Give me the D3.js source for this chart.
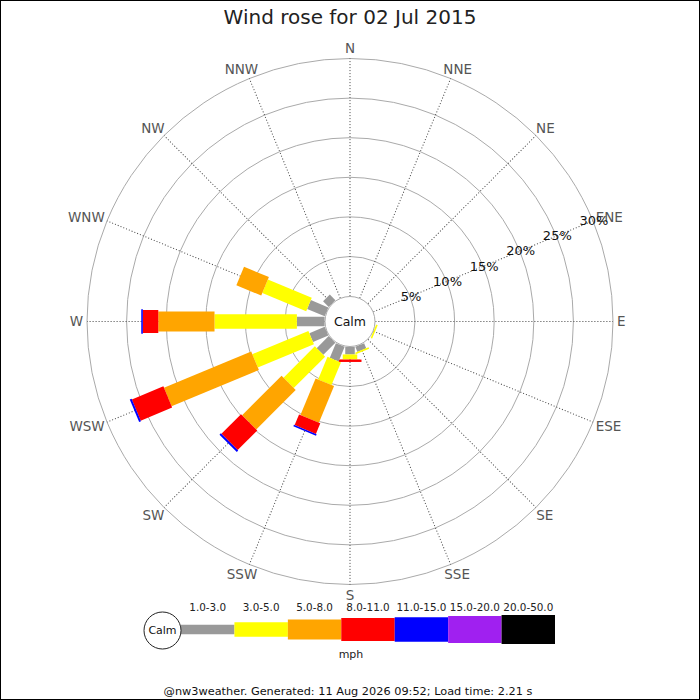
<!DOCTYPE html>
<html><head><meta charset="utf-8">
<script src="https://cdn.jsdelivr.net/npm/d3@7"></script>
<style>body{margin:0;background:#fff}svg{display:block}text{font-family:"DejaVu Sans",sans-serif}</style>
</head><body>
<svg id="c" width="700" height="700"></svg>
<script>
const title = "Wind rose for 02 Jul 2015";
const footer = "@nw3weather. Generated: 11 Aug 2026 09:52; Load time: 2.21 s";
const directions = ["N","NNE","NE","ENE","E","ESE","SE","SSE","S","SSW","SW","WSW","W","WNW","NW","NNW"];
const bandLabels = ["1.0-3.0","3.0-5.0","5.0-8.0","8.0-11.0","11.0-15.0","15.0-20.0","20.0-50.0"];
const bandColors = ["#999999","#ffff00","#ffa500","#ff0000","#0000ff","#a020f0","#000000"];
const ringTicks = [5,10,15,20,25,30];
// percentage frequency per direction, per speed band
const band1 = [0,0,0,0,0,0,0,0.7,0.95,2.0,2.15,2.1,3.5,2.4,1.0,0];
const band2 = [0,0,0,0,0,0.2,0,0.2,0.6,3.1,5.6,7.67,10.4,6.0,0,0];
const band3 = [0,0,0,0,0,0,0,0,0.05,5.0,7.05,11.93,7.1,3.4,0,0];
const band4 = [0,0,0,0,0,0,0,0,0.3,1.45,3.5,4.3,1.95,0,0,0];
const band5 = [0,0,0,0,0,0,0,0,0,0.2,0.25,0.25,0.2,0,0,0];
const band6 = [0,0,0,0,0,0,0,0,0,0,0,0,0,0,0,0];
const band7 = [0,0,0,0,0,0,0,0,0,0,0,0,0,0,0,0];
const bands = [band1,band2,band3,band4,band5,band6,band7];

const bandWidths = [9.5,14.5,20,23,24.5,27,29];
const svg = d3.select("#c");
const cx = 350, cy = 321.5, calmR = 25.4;
const r = d3.scaleLinear().domain([0,30]).range([calmR,263]);
const ang = d3.scaleBand().domain(directions).range([0,360]);
const angOf = d => ang(d);
const rad = d => angOf(d)*Math.PI/180;

svg.append("rect").attr("x",0.5).attr("y",0.5).attr("width",699).attr("height",699)
  .attr("fill","none").attr("stroke","#000").attr("stroke-width",1);

svg.append("text").attr("x",350).attr("y",24).attr("text-anchor","middle")
  .attr("font-size",20).attr("fill","#222").text(title);

const g = svg.append("g").attr("transform",`translate(${cx},${cy})`);

// rings
g.selectAll("circle.ring").data(ringTicks).join("circle").attr("class","ring")
  .attr("r",d=>r(d)).attr("fill","none").attr("stroke","#aaa").attr("stroke-width",1);

// spokes
g.selectAll("line.spoke").data(directions).join("line").attr("class","spoke")
  .attr("transform",d=>`rotate(${angOf(d)})`)
  .attr("x1",0).attr("x2",0).attr("y1",-calmR).attr("y2",-r(30))
  .attr("stroke","#444").attr("stroke-width",1).attr("stroke-dasharray","1,2");

// bars
const segs = [];
directions.forEach((d,i)=>{
  let cum = 0;
  bands.forEach((b,j)=>{
    const v = b[i];
    if (v>0) segs.push({dir:d,band:j,lo:cum,hi:cum+v});
    cum += v;
  });
});
g.selectAll("rect.seg").data(segs).join("rect").attr("class","seg")
  .attr("transform",d=>`rotate(${angOf(d.dir)})`)
  .attr("x",d=>-bandWidths[d.band]/2).attr("width",d=>bandWidths[d.band])
  .attr("y",d=>-r(d.hi)).attr("height",d=>r(d.hi)-r(d.lo))
  .attr("fill",d=>bandColors[d.band]);

// calm circle
g.append("circle").attr("r",calmR-0.4).attr("fill","#fff").attr("stroke","#aaa").attr("stroke-width",1);
g.append("text").attr("y",0).attr("dy","0.36em").attr("text-anchor","middle")
  .attr("font-size",12.5).attr("fill","#111").text("Calm");

// direction labels: placed just outside the outer ring, pushed outward by half their box
const dl = g.selectAll("text.dir").data(directions).join("text").attr("class","dir")
  .attr("dy","0.36em").attr("text-anchor","middle")
  .attr("font-size",13.5).attr("fill","#555").text(d=>d);
dl.each(function(d){
  const w = this.getComputedTextLength(), h = 13;
  const s = Math.sin(rad(d)), c = Math.cos(rad(d));
  d3.select(this).attr("x", 267*s + s*w/2).attr("y", -267*c - c*h/2);
});

// ring labels along ENE
const la = 67.5*Math.PI/180;
g.selectAll("text.rl").data(ringTicks).join("text").attr("class","rl")
  .attr("x",d=>(r(d)+1)*Math.sin(la)).attr("y",d=>-(r(d)+1)*Math.cos(la))
  .attr("dy","0.36em").attr("text-anchor","middle")
  .attr("font-size",13).attr("fill","#111").text(d=>d+"%");

// legend
const lx = d3.scaleBand().domain(bandLabels).range([181,555]);
const ly = 629.5;
const lg = svg.append("g");
lg.selectAll("rect").data(bandLabels).join("rect")
  .attr("x",d=>lx(d)).attr("width",lx.bandwidth())
  .attr("y",(d,i)=>ly-bandWidths[i]/2).attr("height",(d,i)=>bandWidths[i])
  .attr("fill",(d,i)=>bandColors[i]);
lg.selectAll("text").data(bandLabels).join("text")
  .attr("x",d=>lx(d)+lx.bandwidth()/2).attr("y",611).attr("text-anchor","middle")
  .attr("font-size",10.4).attr("fill","#222").text(d=>d);
lg.append("circle").attr("cx",162.5).attr("cy",ly+1).attr("r",18.5).attr("fill","#fff").attr("stroke","#222");
lg.append("text").attr("x",162.5).attr("y",ly+1).attr("dy","0.36em").attr("text-anchor","middle")
  .attr("font-size",11).attr("fill","#111").text("Calm");
lg.append("text").attr("x",351).attr("y",658).attr("text-anchor","middle")
  .attr("font-size",11).attr("fill","#222").text("mph");

svg.append("text").attr("x",348).attr("y",695).attr("text-anchor","middle")
  .attr("font-size",11.3).attr("fill","#111").text(footer);
</script>
</body></html>
